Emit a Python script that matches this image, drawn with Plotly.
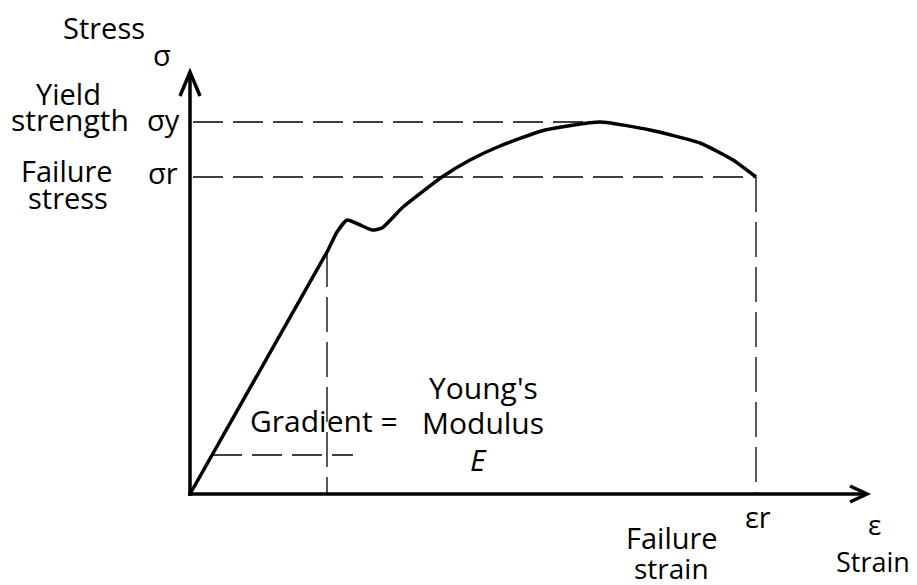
import plotly.graph_objects as go

# ---- data (strain / stress in arbitrary units) ----
strain = [0.00, 1.37, 1.47, 1.57, 1.68, 1.82, 1.92, 2.13, 2.52, 2.80, 3.10, 3.55, 4.10, 4.60, 5.10, 5.43, 5.66]
stress = [0.00, 2.42, 2.62, 2.74, 2.70, 2.64, 2.66, 2.87, 3.17, 3.34, 3.48, 3.64, 3.72, 3.64, 3.51, 3.34, 3.17]

sigma_y = 3.72      # yield strength level
sigma_y_end = 4.10  # strain where the curve peaks
sigma_r = 3.17      # failure stress
eps_r = 5.66        # failure strain
eps_lin = 1.37      # end of linear region
grad_y = 0.39       # stress level of the gradient construction
grad_x0 = 0.22
grad_x1 = 1.63

x_tip = 6.77
y_tip = 4.22

FONT = "Open Sans"
BLACK = "#000000"

fig = go.Figure()
fig.add_trace(go.Scatter(x=strain, y=stress, mode="lines",
                         line=dict(color=BLACK, width=3.5, shape="spline", smoothing=0.5),
                         hoverinfo="skip", showlegend=False))

dl = dict(color=BLACK, width=1.3, dash="30px,10px")
dv = dict(color=BLACK, width=1.3, dash="35px,10px")
shapes = [
    dict(type="line", x0=0.03, y0=sigma_y, x1=sigma_y_end, y1=sigma_y, line=dl, layer="below"),
    dict(type="line", x0=0.03, y0=sigma_r, x1=eps_r, y1=sigma_r, line=dl, layer="below"),
    dict(type="line", x0=eps_r, y0=sigma_r, x1=eps_r, y1=0, line=dv, layer="below"),
    dict(type="line", x0=eps_lin, y0=stress[1], x1=eps_lin, y1=0, line=dv, layer="below"),
    dict(type="line", x0=grad_x0, y0=grad_y, x1=grad_x1, y1=grad_y, line=dl, layer="below"),
    # axes
    dict(type="line", x0=0, y0=-0.02, x1=0, y1=y_tip, line=dict(color=BLACK, width=3.5)),
    dict(type="line", x0=-0.02, y0=0, x1=x_tip, y1=0, line=dict(color=BLACK, width=3.5)),
    dict(type="path", path=f"M {-0.10},{y_tip-0.24} L 0,{y_tip} L {0.10},{y_tip-0.24}",
         line=dict(color=BLACK, width=3.5)),
    dict(type="path", path=f"M {x_tip-0.17},{0.08} L {x_tip},0 L {x_tip-0.17},{-0.08}",
         line=dict(color=BLACK, width=3.5)),
]
fig.update_layout(shapes=shapes)

def lab(x, y, t, size=29, italic=False):
    fig.add_annotation(x=x, y=y, text=(f"<i>{t}</i>" if italic else t), showarrow=False,
                       xanchor="center", yanchor="middle",
                       font=dict(family=FONT, size=size, color=BLACK))

lab(-0.86, 4.67, "Stress", 29)
lab(-0.28, 4.40, "σ", 29)
lab(-1.22, 4.01, "Yield", 29)
lab(-1.20, 3.75, "strength", 30)
lab(-0.27, sigma_y + 0.03, "σy", 29)
lab(-1.23, 3.24, "Failure", 29)
lab(-1.22, 2.97, "stress", 29)
lab(-0.27, sigma_r + 0.05, "σr", 29)
lab(1.34, 0.74, "Gradient =", 30)
lab(2.93, 1.07, "Young's", 30)
lab(2.93, 0.72, "Modulus", 30)
lab(2.88, 0.35, "E", 30, italic=True)
lab(eps_r + 0.02, -0.22, "εr", 29)
lab(6.84, -0.30, "ε", 28)
lab(6.83, -0.67, "Strain", 27)
lab(4.82, -0.43, "Failure", 29)
lab(4.81, -0.74, "strain", 28)

ax = dict(visible=False, showgrid=False, zeroline=False, fixedrange=True)
fig.update_layout(
    width=909, height=577,
    margin=dict(l=0, r=0, t=0, b=0),
    paper_bgcolor="white", plot_bgcolor="white",
    xaxis=dict(range=[-1.82, 7.27], **ax),
    yaxis=dict(range=[-0.91, 4.86], **ax),
    showlegend=False,
)
fig.write_html("out.html")
